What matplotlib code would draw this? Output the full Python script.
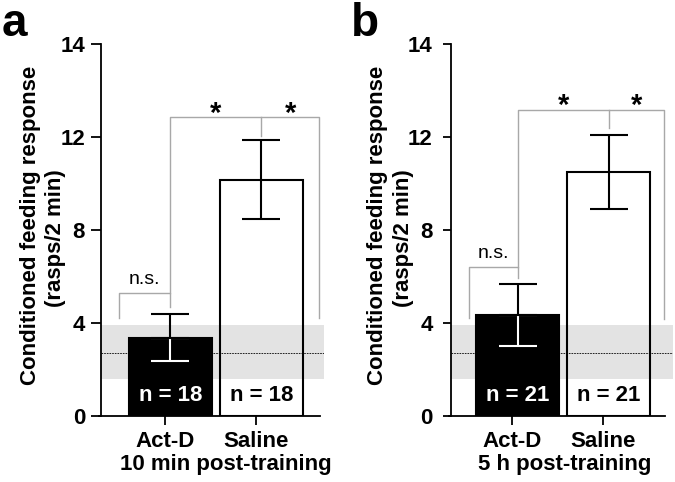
import numpy as np
import matplotlib.pyplot as plt
import matplotlib.transforms as mtransforms

plt.rcParams['font.family'] = ['Liberation Sans', 'DejaVu Sans']

# data
groups = ['Act-D', 'Saline']
panel_ids = ['a', 'b']
timing = ['10 min post-training', '5 h post-training']
ylabel_lines = ['Conditioned feeding response', '(rasps/2 min)']
means = [[3.36, 10.15], [4.35, 10.5]]
sems = [[1.0, 1.7], [1.33, 1.6]]
n_labels = [['n = 18', 'n = 18'], ['n = 21', 'n = 21']]
band_lo, band_hi = 1.57, 3.9      # grey range of untrained animals
baseline = 2.71                   # dashed mean line
yticks = [0, 4, 8, 12, 16]
ytick_labels = ['0', '4', '8', '12', '14']

# bracket heights: n.s. leg bottom, n.s. top, inner leg bottom
ns_heights = [[4.2, 5.3, 4.7], [4.2, 6.42, 5.91]]
# star bar top, saline tick bottom, right leg bottom
star_heights = [[12.85, 12.05, 4.2], [13.17, 12.37, 4.15]]

W, H = 675, 482
fig = plt.figure(figsize=(W / 100, H / 100), dpi=100)

# layout in pixels / data units per panel
layouts = [
    dict(left=101, right=324, xlim=(0.297, 2.747), xend=2.703, tlen=7.5, tpad=4.0,
         ylab=(-0.318, -0.202), xlab=0.558),
    dict(left=451, right=673, xlim=(0.326, 2.766), xend=2.677, tlen=5.8, tpad=7.5,
         ylab=(-0.333, -0.212), xlab=0.513),
]
y0_px, y16_px = 415.7, 44
grey = '#a8a8a8'
offset = 0.06
width = 0.91

for i, lay in enumerate(layouts):
    ax = fig.add_axes([lay['left'] / W, (H - y0_px) / H,
                       (lay['right'] - lay['left']) / W, (y0_px - y16_px) / H])
    ax.set_xlim(*lay['xlim'])
    ax.set_ylim(0, 16)
    ticks = np.arange(1, len(groups) + 1)
    xs = ticks + offset

    ax.axhspan(band_lo, band_hi, color='#e3e3e3', lw=0, zorder=0)
    ax.axhline(baseline, color='black', lw=0.6, ls=(0, (2.0, 1.2)), zorder=1)

    ax.bar(xs[0], means[i][0], width, color='black', edgecolor='black', lw=1.5, zorder=2)
    ax.bar(xs[1], means[i][1], width, facecolor='none', edgecolor='black', lw=1.5, zorder=2)

    # Act-D: lower half of the error bar is white inside the black bar
    ax.errorbar(xs[0], means[i][0], yerr=[[sems[i][0]], [0]], fmt='none',
                ecolor='white', elinewidth=1.5, capsize=14, capthick=1.5, zorder=3)
    ax.errorbar(xs[0], means[i][0], yerr=[[0], [sems[i][0]]], fmt='none',
                ecolor='black', elinewidth=1.5, capsize=14, capthick=1.5, zorder=4)
    ax.errorbar(xs[1], means[i][1], yerr=[[sems[i][1]], [sems[i][1]]], fmt='none',
                ecolor='black', elinewidth=1.5, capsize=14, capthick=1.5, zorder=3)

    ax.text(xs[0], 0.85, n_labels[i][0], color='white', fontsize=16, fontweight='bold',
            ha='center', va='center', zorder=5)
    ax.text(xs[1], 0.85, n_labels[i][1], color='black', fontsize=16, fontweight='bold',
            ha='center', va='center', zorder=5)

    # significance brackets
    left_leg = lay['xlim'][0] + 0.2
    right_leg = lay['xend'] - 0.015
    nb, nt, ib = ns_heights[i]
    st, sm, rb = star_heights[i]
    ax.plot([left_leg, left_leg, xs[0], xs[0]], [nb, nt, nt, ib], color=grey, lw=1, clip_on=False)
    ax.plot([xs[0], xs[0], right_leg, right_leg], [nt, st, st, rb], color=grey, lw=1, clip_on=False)
    ax.plot([xs[1], xs[1]], [st, sm], color=grey, lw=1, clip_on=False)
    ax.text((left_leg + xs[0]) / 2, nt + 0.2, 'n.s.', fontsize=14, ha='center', va='bottom')
    for sx in [(xs[0] + xs[1]) / 2, (xs[1] + right_leg) / 2]:
        ax.text(sx, st - 0.45, '*', fontsize=21, fontweight='bold', ha='center', va='bottom')

    for s in ['top', 'right']:
        ax.spines[s].set_visible(False)
    ax.spines['left'].set_bounds(0, 16)
    ax.spines['bottom'].set_bounds(lay['xlim'][0] - 0.02, lay['xend'])
    for s in ['left', 'bottom']:
        ax.spines[s].set_linewidth(1.3)

    ax.set_yticks(yticks)
    ax.set_yticklabels(ytick_labels, fontsize=16, fontweight='bold')
    ax.tick_params(axis='y', length=lay['tlen'], width=1.3, pad=lay['tpad'])
    ax.set_xticks(ticks)
    ax.set_xticklabels(groups, fontsize=16, fontweight='bold')
    ax.tick_params(axis='x', length=6.5, width=1.3, pad=4.5)

    # two-line y label, each line placed on its own
    trans = mtransforms.blended_transform_factory(ax.transAxes, ax.transData)
    ax.text(lay['ylab'][0], 8.2, ylabel_lines[0], transform=trans, rotation=90,
            fontsize=16, fontweight='bold', ha='center', va='center')
    ax.text(lay['ylab'][1], 7.65, ylabel_lines[1], transform=trans, rotation=90,
            fontsize=16, fontweight='bold', ha='center', va='center')

    ax.text(lay['xlab'], -49 / (y0_px - y16_px), timing[i], transform=ax.transAxes,
            fontsize=16, fontweight='bold', ha='center', va='center')

fig.text(2 / W, 1 - 2 / H, panel_ids[0], fontsize=33, fontweight='bold', ha='left', va='top')
fig.text(351 / W, 1 - 2 / H, panel_ids[1], fontsize=33, fontweight='bold', ha='left', va='top')

fig.savefig('out.png', dpi=100)
